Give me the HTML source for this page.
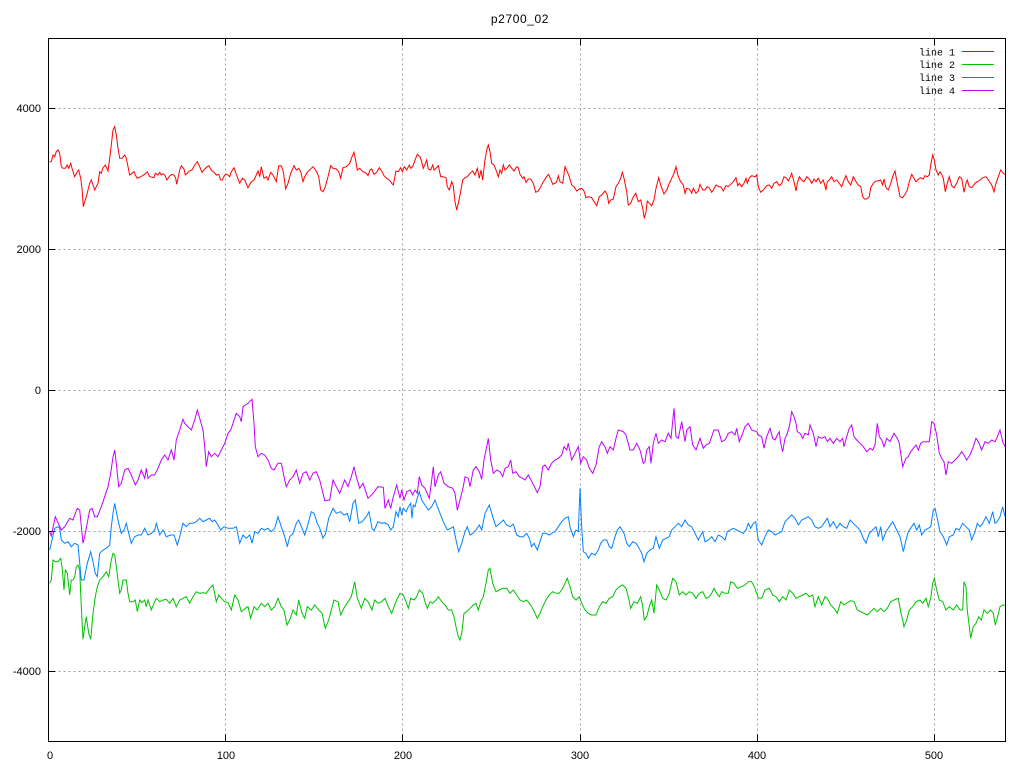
<!DOCTYPE html>
<html>
<head>
<meta charset="utf-8">
<style>
html,body{margin:0;padding:0;background:#fff;}
svg{display:block;}
text{font-family:"Liberation Sans",sans-serif;font-size:11px;fill:#000;}
.mono{font-family:"Liberation Mono",monospace;font-size:10px;}
</style>
</head>
<body>
<svg width="1024" height="768" viewBox="0 0 1024 768" xmlns="http://www.w3.org/2000/svg">
<rect x="0" y="0" width="1024" height="768" fill="#fff"/>
<!-- grid -->
<g stroke="#a0a0a0" stroke-width="1" stroke-dasharray="2,3" fill="none">
<line x1="48.5" y1="108.5" x2="1005.5" y2="108.5"/>
<line x1="48.5" y1="249.5" x2="1005.5" y2="249.5"/>
<line x1="48.5" y1="390.5" x2="1005.5" y2="390.5"/>
<line x1="48.5" y1="531.5" x2="1005.5" y2="531.5"/>
<line x1="48.5" y1="671.5" x2="1005.5" y2="671.5"/>
<line x1="225.5" y1="38.5" x2="225.5" y2="741.5"/>
<line x1="402.5" y1="38.5" x2="402.5" y2="741.5"/>
<line x1="580.5" y1="38.5" x2="580.5" y2="741.5"/>
<line x1="757.5" y1="38.5" x2="757.5" y2="741.5"/>
<line x1="934.5" y1="38.5" x2="934.5" y2="741.5"/>
</g>
<!-- ticks -->
<g stroke="#000" stroke-width="1">
<line x1="48.5" y1="108.5" x2="55.5" y2="108.5"/><line x1="998.5" y1="108.5" x2="1005.5" y2="108.5"/>
<line x1="48.5" y1="249.5" x2="55.5" y2="249.5"/><line x1="998.5" y1="249.5" x2="1005.5" y2="249.5"/>
<line x1="48.5" y1="390.5" x2="55.5" y2="390.5"/><line x1="998.5" y1="390.5" x2="1005.5" y2="390.5"/>
<line x1="48.5" y1="531.5" x2="55.5" y2="531.5"/><line x1="998.5" y1="531.5" x2="1005.5" y2="531.5"/>
<line x1="48.5" y1="671.5" x2="55.5" y2="671.5"/><line x1="998.5" y1="671.5" x2="1005.5" y2="671.5"/>
<line x1="225.5" y1="38.5" x2="225.5" y2="45.5"/><line x1="225.5" y1="734.5" x2="225.5" y2="741.5"/>
<line x1="402.5" y1="38.5" x2="402.5" y2="45.5"/><line x1="402.5" y1="734.5" x2="402.5" y2="741.5"/>
<line x1="580.5" y1="38.5" x2="580.5" y2="45.5"/><line x1="580.5" y1="734.5" x2="580.5" y2="741.5"/>
<line x1="757.5" y1="38.5" x2="757.5" y2="45.5"/><line x1="757.5" y1="734.5" x2="757.5" y2="741.5"/>
<line x1="934.5" y1="38.5" x2="934.5" y2="45.5"/><line x1="934.5" y1="734.5" x2="934.5" y2="741.5"/>
</g>
<!-- labels -->
<g text-anchor="end">
<text x="41" y="112">4000</text>
<text x="41" y="253">2000</text>
<text x="41" y="394">0</text>
<text x="41" y="535">-2000</text>
<text x="41" y="675">-4000</text>
</g>
<g text-anchor="middle">
<text x="50" y="759">0</text>
<text x="226" y="759">100</text>
<text x="403" y="759">200</text>
<text x="580" y="759">300</text>
<text x="757" y="759">400</text>
<text x="934" y="759">500</text>
<text x="520" y="23" style="font-size:12px;letter-spacing:0.6px">p2700_02</text>
</g>
<!-- series -->
<g fill="none" stroke-width="1" stroke-linejoin="miter">
<polyline stroke="#ff0000" points="49.7,161.7 51.3,161.7 53,155 54.7,156.7 56.3,151.7 58,150 59.7,153.3 61.3,166.7 63,168.3 65.3,168.3 67.3,165 68.7,168.3 70.7,163.3 72,168.3 74.7,176.7 77.3,171.7 78.7,170 80.7,178.3 82,188.3 83.3,206.7 84.7,201.7 86.3,196.7 88,190 89.7,183.3 91.3,180 93,185 94.7,190 96.3,186.7 98,183.3 99.7,171.7 101.3,173.3 103,167.7 105.3,165 108,171 109.7,158.3 111.3,145 113,130 114.7,126.7 116.3,135 118,148.3 119.7,158.3 122,158.3 124.7,155 126.3,158.3 128,166.7 129.7,175 132,173.3 134,171.7 135.3,175 137.3,178.3 140.7,176.7 144.7,174.3 147.3,171.7 149.7,176.7 154,177.7 155.3,173.3 158,175 159.7,172.3 161.3,175 163,173.7 164.7,175 167,180 169.7,176 172,174.3 174,175 175.7,178.3 176.7,184.3 178,178.3 179.7,170 181.3,165.7 184,169 185.3,175 187.3,173.3 189,171 192,170 194.7,165 197.3,161.7 199.7,166.7 202,172.3 204.7,169 207.3,166.7 209,165.7 211.3,170 214,172.3 216.3,175 218.7,174.3 220.7,180 222.3,180 224.7,175 227,174.3 229.7,176.7 231.3,171.7 234,167.7 236.3,174.3 239.7,183.3 242.3,178.3 244.7,180 248,187.7 251.3,181.7 254,180 256.3,175 258,171 259.7,176.7 261.3,166.7 264,178.3 266.3,176.7 268,180 270.7,172.3 273,175 274.7,178.3 276.3,181.7 278.7,165.7 281.3,165.7 283.3,171.7 285.7,189 288,183.3 290.7,173.3 294,165.7 296.3,170 298.7,168.3 300.7,171.7 303,181.7 304.7,176.7 307.3,172.3 311.3,168.3 313,166.7 316.3,171 318.7,176.7 320.7,190 323,191.7 325.3,186.7 328,176.7 330.7,165.7 333,168.3 336.3,169 338.7,171.7 340.7,178.3 343,167.7 346.3,166.7 349.7,163.3 352,156.7 354,152.3 355.3,158.3 357.3,170 359.7,168.3 363,171.7 366.3,173.3 368,175.7 370,170 371.7,169 374,174.3 376.7,172.3 379.3,167.7 381.7,171 384,175.7 386.7,178.3 389.3,180 391.7,183.3 393.3,185 396,171 398.3,171.7 400.7,167.7 402.3,171.7 404.3,166.7 406.7,170 409.3,165 410.7,168.3 412.7,166.7 415,160 417.3,154.3 420,156.7 421.7,161.7 423.3,168.3 425,164.3 426.7,160 428.3,169 430.7,170 432.7,165 434,170 436,168.3 438.3,165.7 440.7,176.7 443.3,176.7 446,177.7 447.3,186.7 449.3,190 451.7,181.7 453.3,185.7 455,201.7 456.7,210 458.3,203.3 460,195 462.7,180 465,177.7 467.3,176.7 470,173.3 472.7,171 475,175 477.3,168.3 479.3,178.3 481,170 482.7,180 484.7,161.7 486.7,150 488.3,145 490,151.7 491.7,163.3 494,165 496,170 498.3,176.7 500,170 501.7,173.3 503.3,165 505,170 507.3,167.7 509.3,165 511.7,168.3 514,171 516.7,166.7 518.3,167.7 520,174.3 522.7,178.3 524,176.7 526,182.3 528.3,179 530.7,179 533.3,183.3 535.7,192.3 538.3,191 540.7,186.7 543.3,181.7 546,177.7 548.3,174.3 550.7,179 552.7,184.3 555,183.3 556.7,181.7 558.3,175.7 560,181.7 562.7,183.3 565,166.7 567.3,171.7 569.3,176.7 571.7,185 574,186.7 576.7,191 579.3,189 581.7,188.3 584,191 586,197.7 588.3,196.7 591.7,197.7 594,201.7 596.7,205.7 599.3,196.7 601.7,195 605,191 607.3,195 608.7,203.3 610.7,200 613.3,199 616,186.7 618.3,183.3 620.7,178.3 622.3,172.3 624,178.3 626.7,191.7 628.3,205 630.7,203.3 633.3,196.7 635.7,193.3 638.3,201.7 640.7,200 642.7,208.3 644.3,218.3 646,211.7 647.3,201 649.3,203.3 651.7,205.7 654,200 656,188.3 658.7,177.7 660.7,185 664,194 666.7,190 669.3,183.3 671.7,178.3 674,173.3 676,166.7 678.3,176.7 680.7,181.7 683.3,185 685,193.3 686.7,188.3 689.3,189 691.7,193.3 693.3,188.3 696,193.3 698.3,191 700,184.3 702.7,190 705,190 707.3,186.7 709.3,187.7 711.7,192.3 713.3,190 716,185 718.3,186.7 720.7,186.7 723.3,191 726,185.7 728.3,186.7 730.7,184.3 733.3,181.7 736,177.7 737.7,185.7 739.3,183.3 741.7,186.7 744,183.3 746,178.3 747.3,183.3 749.3,177.7 751.7,175.7 755,176.7 756.7,175 758.3,186.7 760.7,192.3 763.3,190 766.7,185.7 769.3,185 771.7,188.3 774,183.3 776.7,181.7 779.3,185.7 781.7,183.3 784,176.7 786.7,178.3 788.3,181 790,177.7 791.7,173.3 794,181.7 796,191 797.3,183.3 799.3,176.7 801.7,180 804,181.7 806.7,176.7 809.3,179 811.7,183.3 814,179 816,181.7 818.3,178.3 820.7,183.3 823.3,180 826,190 827.3,181.7 829.3,180 831.7,176.7 834,181.7 836.7,180 839.3,183.3 841.7,186.7 844,180 846,175.7 848.3,181.7 850.7,185 853.3,176.7 856,181.7 858.3,185 860.7,186.7 862.7,196.7 864.3,199 866.7,199 869.3,196.7 870.7,187.7 873.3,183.3 876,181 878.3,181 880.7,180 882.7,185 884,179 886,187.7 888.3,190 890.7,183.3 892.7,176.7 895,171 897.3,183.3 900,196.7 902.7,197.7 905,194.3 907.3,190 909.3,181.7 911.7,174.3 914,178.3 916,181.7 918.3,179.3 920.7,177.7 923.3,179 925,175.7 927.3,176.7 929.3,175 930.7,165 932.7,155 934.3,160 936,170 938.3,175 940,171.7 941.7,174.3 943.3,178.3 945.3,191.7 947.3,183.3 949.3,176.7 951.7,185.7 954,187.7 956.7,183.3 959.3,176.7 961.7,178.3 964,192.3 966,183.3 967.3,180 969.3,186.7 971.7,187.7 975,183.3 977.3,181.7 980,180 982.7,177.7 986,176.7 988.3,180 991.7,185 994,191.7 996,183.3 998.3,176.7 1000.7,170 1003.3,173.3 1005,174.3"/>
<polyline stroke="#00c000" points="49.7,583.3 51.3,580 53,560 55.3,561.7 58,561.7 60.7,558.3 62,566.7 64,590 65.3,570 67.3,573.3 69.7,595 71.3,580 73,580 74.7,576.7 76.3,566.7 78,565 79.7,570 81.3,606.7 83,639.3 84.7,626.7 86.3,616.7 88.7,633.3 90.7,639.3 93,613.3 95.3,596.7 97.3,586.7 99.7,580 103,576.7 106.3,571.7 108.7,576.7 111.3,560 113,553.3 114.7,555 116.3,566.7 118,580 119.7,593.3 121.3,590 123,580 126.3,580 128,593.3 129.7,601.7 133,601.7 135.3,600 137.3,611.7 139.7,600 142,602.7 144.7,600 146.3,606.7 148,600 151.3,610 154,603.3 156.3,598.3 159.7,601.7 163,600 166.3,599.3 169.7,603.3 173,598.3 176.3,606.7 179.7,600 183,598.3 186.3,596.7 189.7,603.3 193,596.7 196.3,591.7 199.7,593.3 203,592.7 206.3,593.3 209.7,588.3 213,585 216.3,601.7 218.7,595 221.3,598.3 224.7,601.7 228,602.7 231.3,610 234.7,595 238,600 241.3,611.7 245.3,608.3 248,606.7 250.7,618.3 254,606.7 257.3,610 261.3,603.3 264.7,606.7 268,603.3 271.3,610 274.7,606.7 278,598.3 281.3,606.7 284,610 287,625 289.7,620 293,610 296.3,615 298.7,600 302,613.3 304.7,618.3 307.3,606.7 311.3,610 314.7,605 318.7,610 322,613.3 325.3,628.3 328.7,620 331.3,610 334,600 338,601.7 340.7,615 344.7,606.7 348,601.7 351.3,596.7 354.7,581.7 357.3,598.3 361.3,608.3 364.7,598.3 368,601.7 372,610 374.7,600 378,603.3 381.7,601.7 385,598.3 388.3,606.7 391.7,613.3 394,606.7 396.7,600 400,593.3 403.3,595 406,601.7 408.3,608.3 410.7,598.3 414,600 416.7,596.7 419.3,590 422.7,593.3 425,601.7 427.3,608.3 430,601.7 432.7,603.3 436,600 438.3,596.7 441.7,601.7 445,605 448.3,610 451.7,610 454,616.7 456,626.7 458.3,636.7 460,640 461.7,633.3 464,613.3 466.7,611.7 470,608.3 473.3,605 476,603.3 478.3,610 480.7,601.7 483.3,596.7 486,583.3 488.3,570 490,568.3 492.7,583.3 496,591.7 499.3,590 502.7,588.3 506.7,588.3 510,593.3 513.3,590 516.7,595 520,600 523.3,601.7 526.7,600 529.3,603.3 531.7,606.7 535,613.3 537.3,618.3 540,613.3 542.7,606.7 546,600 549.3,595 552.7,591.7 556,593.3 559.3,593.3 562.7,588.3 565,583.3 567.3,578.3 570,586.7 572.7,596.7 576,600 579.3,596.7 581.7,603.3 585,610 588.3,613.3 591.7,615 596,615 599.3,606.7 602.7,601.7 606,603.3 609.3,598.3 612.7,596.7 616,590 619.3,586.7 622.7,585 626,588.3 628.3,596.7 630.7,608.3 634,601.7 637.3,603.3 640.7,596.7 642.7,606.7 644.3,620 646.7,616.7 649.3,606.7 651.7,600 654,613.3 656.7,585 659.3,590 662.7,598.3 666,600 669.3,593.3 672.7,578.3 676,581.7 679.3,595 682.7,591.7 686,595 689.3,591.7 692.7,593.3 696,598.3 699.3,593.3 702.7,591.7 706,598.3 709.3,596.7 711.7,593.3 714,588.3 716.7,593.3 719.3,596.7 721.7,591.7 725,593.3 728.3,593.3 730.7,581.7 734,583.3 737.3,588.3 741.7,586.7 745,585 748.3,581.7 751.7,581.7 755,588.3 758.3,598.3 761.7,598.3 765,590 769.3,588.3 772.7,595 776,596.7 779.3,601.7 782.7,596.7 786,600 789.3,590 792.7,593.3 796,598.3 799.3,596.7 802.7,595 806,593.3 809.3,596.7 812.7,595 815,606.7 818.3,596.7 821.7,605 825,596.7 827.3,598.3 830.7,605 834,608.3 837.3,613.3 840.7,601.7 844,605 847.3,602.7 850.7,600.7 854,601.7 857.3,610 860.7,611.7 864,613.3 867.3,615 870.7,611.7 874,608.3 877.3,611.7 880.7,608.3 884,611.7 887.3,608.3 890.7,601.7 894,600 898.3,598.3 900.7,611.7 902.7,620 904,626.7 906.7,620 909.3,610 912.7,606.7 916,601.7 920,600 922.7,603.3 926,598.3 928.3,606.7 930.7,598.3 932.7,583.3 934.3,578.3 936.7,590 939.3,600 942.7,601.7 946,610 949.3,606.7 953.3,610 956.7,605 960,610 962.7,610 964,581.7 966,586.7 967.3,610 969.3,626.7 970.7,638.3 973.3,626.7 976,623.3 978.7,616.7 981.3,620 984,610 987.3,613.3 990.7,610 993.3,613.3 995.3,625 997.3,618.3 1000,606.7 1003.3,605 1005,605"/>
<polyline stroke="#0080ff" points="49.7,550 52,540 54.7,528.3 58,526.7 59.7,528.3 61.3,540 64.7,543.3 68,541.7 71.3,546.7 74.7,543.3 78,545 81.3,580 84,580 87.3,563.3 90.7,551.7 93,561.7 95.3,573.3 97.3,576.7 99.7,553.3 103,550 106.3,548.3 109.7,545 111.3,526.7 113,513.3 114.7,503.3 116.3,511.7 118.7,523.3 121.3,533.3 124,530 126.3,523.3 128.7,533.3 131.3,543.3 134.7,536.7 138,535 141.3,535 144.7,528.3 148,535 151.3,533.3 154.7,530 156.3,523.3 159.7,535 163,530 166.3,536.7 170.7,535 174,535 177.3,545 179.7,536.7 183,523.3 186.3,526.7 189.7,523.3 193,523.3 196.3,521.7 199.7,518.3 203,521.7 206.3,520 209.7,518.3 212,521.7 214.7,520 218,525 220.7,530 224,526.7 228,528.3 233,528.3 236.3,526.7 239.7,543.3 243,535 246.3,538.3 249.7,535 252,543.3 254.7,531.7 258,533.3 261.3,528.3 264.7,530 268,528.3 271.3,531.7 274.7,528.3 278,516.7 281.3,526.7 284.7,536.7 287.3,546.7 289.7,536.7 293,533.3 296.3,523.3 298.7,520 302,528.3 304.7,535 307.3,526.7 311.3,511.7 314,513.3 317.3,523.3 319.7,528.3 323,538.3 325.7,533.3 328.7,518.3 333,508.3 336.3,513.3 340.7,511.7 344,515 347.3,513.3 349.7,521.7 353,503.3 355.3,500 358.7,523.3 362,521.7 366.3,516.7 369,511.7 372,528.3 374,530.7 378,521.7 381.7,523.3 385,522.7 388.3,525 390.7,530 393.3,526.7 396,511.7 398.3,516.7 400,506.7 401.7,515 403.3,508.3 406,511.7 408.3,506.7 410.7,503.3 412,518.3 413.3,505 415,506.7 416.7,500 419.3,491.7 421.7,500 425,505 428.3,510 431.7,506.7 435,500 436.7,505 440,513.3 443.3,521.7 447.3,530 450.7,528.3 453.3,526.7 456,540 458.7,551.7 461.7,543.3 465,531.7 467.3,526.7 470,535 472.7,533.3 476,530 479.3,525 481.7,530 485,513.3 489.3,505 492.7,516.7 496,526.7 500,523.3 503.3,520 506.7,525 510,526.7 513.3,524 516.7,535 520,536.7 523.3,536.7 526.7,533.3 529.3,538.3 531.7,546.7 534,543.3 537.3,550 540,541.7 542.7,533.3 546,533.3 549.3,535 552.7,532.7 555,531.7 558.3,526.7 561.7,521.7 565,518.3 568.3,516.7 570,526.7 573.3,536.7 576,530 578.3,531.7 580,488.3 581.7,526.7 583.3,551.7 586,553.3 588.3,558.3 591.7,553.3 595,555 598.3,550 600.7,543.3 603.3,540 606.7,540 609.3,546.7 611.7,548.3 615,536.7 617.3,530 620,526.7 624,533.3 626.7,543.3 629.3,546.7 632.7,541.7 636,543.3 638.3,546.7 641.7,553.3 644,561.7 646.7,553.3 650,550 653.3,548.3 656,536.7 659.3,548.3 662.7,540 666,538.3 669.3,536.7 671.7,530 675,526.7 678.3,523.3 681.7,526.7 685,520 688.3,525 691.7,526.7 695,533.3 698.3,540 700,536.7 702.7,531.7 705,541.7 708.3,540 711.7,536.7 715,541.7 718.3,535 721.7,536.7 725,540 727.3,531.7 730,530 733.3,528.3 736.7,530 740,531.7 743.3,533.3 746,530 748.3,523.3 750.7,528.3 753.3,523.3 755.7,521.7 758.3,540 761.7,545 765,536.7 768.3,530 771.7,531.7 775,535 778.3,533.3 781.7,531.7 785,521.7 788.3,518.3 791.7,515 795,518.3 798.3,525 801.7,520 805,518.3 808.3,516.7 811.7,520 815,526.7 818.3,528.3 821.7,526.7 825,521.7 827.3,518.3 830,526.7 833.3,521.7 836.7,528.3 840,523.3 843.3,526.7 846.7,528.3 850,520 853.3,523.3 856.7,526.7 860,530 863.3,538.3 866,543.3 869.3,533.3 872.7,530 876,526.7 878.3,536.7 880.7,526.7 882.7,540 886,531.7 889.3,526.7 892.7,521.7 896.7,530 900,536.7 903.3,551.7 906,540 908.3,531.7 911.7,526.7 914,523.3 916.7,530 919.3,525 921.7,535 925,530 928.3,528.3 930.7,526.7 933.3,510 935,508.3 937.3,518.3 940,531.7 943.3,536.7 946.7,545 949.3,536.7 953.3,535 956,528.3 959.3,530 962.7,523.3 966,526.7 969.3,530 971.7,540 975,531.7 977.3,523.3 980,526.7 982.7,523.3 986,516.7 989.3,523.3 992.7,511.7 995,523.3 997.3,521.7 1000,516.7 1002.7,506.7 1005,516.7"/>
<polyline stroke="#c000ff" points="49.7,531.7 51.3,536 55.3,516.7 61.3,530 64.7,526.7 69.7,518.3 73,520 74.7,515 77.3,508.3 79.7,510 83,543.3 84.7,536.7 89.7,510 92,508.3 94.7,516.7 97.3,516.7 101.3,506.7 104.7,496.7 108,486.7 110.7,473.3 113,456.7 114.7,450 116.3,463.3 118.7,486.7 121.3,483.3 124.7,470 128,468.3 131.3,475 135.3,485 138,480 141.3,470 144.7,478.3 146.3,468.3 148,478.3 151.3,475 154.7,475 158,468.3 161.3,460 164.7,455 168,460 171.3,450 174,460 176.3,440 179.7,430 183,419.3 184.7,423.3 188,426.7 191.3,430 194.7,420 197.3,410 199.7,418.3 203,430 204.7,446.7 206.3,466.7 208.7,451.7 211.3,456.7 214.7,453.3 218,456.7 221.3,450 224.7,443.3 228,433.3 230.7,430 233,423.3 236.3,413.3 239.7,416.7 241.3,421.7 243,406.7 248,403.3 252,399.3 254,423.3 255.3,446.7 258,456.7 261.3,453.3 264.7,455 268,460 271.3,468.3 274,470 278,463.3 281.3,463.3 284.7,480 286.3,486.7 289.7,480 293,476.7 296.3,470 299.7,483.3 303,473.3 306.3,471.7 309.7,480 313,473.3 316.3,471.7 319.7,480 323,493.3 324.7,500.7 329.7,500 333,480 336.3,486.7 339.7,493.3 344.7,480 348,486.7 351.3,476.7 354,466.7 356.3,476.7 359.7,488.3 363,483.3 368,498.3 373,493.3 378,486.7 383.3,487.3 385,508.3 388.3,500 390.7,508.3 393.3,496.7 396.7,485 400,498.3 401.7,490 404,500 406.7,491.7 410,490 412.7,495 415,490 417.3,493.3 419.3,476.7 421.7,485 425,488.3 429.3,498.3 431.7,480 433.3,466.7 435,486.7 438.3,475 440.7,471.7 444,483.3 448.3,486.7 452.7,488.3 455,493.3 457.3,510 460,500 463.3,486.7 465,476.7 468.3,478.3 470,486.7 473.3,470 476,466.7 479.3,471.7 481.7,479.3 484,460 486.7,446.7 488.3,438.3 490.7,460 493.3,473.3 496.7,470 500,471.7 502.7,476.7 505,468.3 508.3,466.7 510.7,460 512.7,473.3 516,471.7 519.3,476.7 522.7,478.3 525,480 528.3,475 532.7,483.3 537.3,492.7 540,486.7 542.7,466.7 545,465 548.3,470 551.7,463.3 555,460 558.3,458.3 561.7,455 564,446.7 566.7,450 568.3,443.3 571.7,460 575,453.3 578.3,446.7 580.7,463.3 583.3,456.7 586.7,460 589.3,468.3 592.7,473.3 596,465 599.3,446.7 601.7,441.7 605,446.7 607.3,453.3 610,446.7 613.3,450 616,438.3 618.3,430 623.3,431.7 626,435 630,450 633.3,450 636.7,443.3 640,450 643.3,463.3 645,461.7 646.7,450 649.3,446.7 651,463.3 653.3,443.3 656,433.3 658.3,443.3 661.7,440 665,441.7 668.3,433.3 671,438.3 674,408.3 676,436.7 678.3,438.3 681.7,421.7 685,441.7 686.7,430 690,426.7 692.7,445 696,450 700,438.3 703.3,448.3 706,445 709.3,443.3 711.7,436.7 714,430 718.3,430 721.7,441.7 725,440 728.3,433.3 731.7,431.7 735,435 736.7,428.3 739.3,441.7 742.7,433.3 745,426.7 748.3,423.3 751.7,430 756.7,431.7 758.3,435 761.7,436.7 764,448.3 766.7,436.7 770,428.3 772.7,438.3 775,440 777.3,435 779.3,431.7 780.7,443.3 782.7,451.7 785,438.3 786.7,435 789.3,426.7 791.7,411.7 794,416.7 796,423.3 797.3,431.7 800,433.3 802.7,438.3 805,433.3 808.3,435 810,425 813.3,433.3 816,446.7 818.3,436.7 821.7,438.3 825,436.7 827.3,441.7 830,438.3 833.3,443.3 836.7,438.3 840,441.7 842.7,438.3 844,446.7 846.7,436.7 849.3,428.3 851.7,425 854,436.7 856.7,440 860,443.3 863.3,446.7 866.7,451.7 870,448.3 872.7,450 875,445 877.3,423.3 879.3,436.7 881.7,440 884,446.7 886.7,438.3 890,441.7 894,433.3 897.3,438.3 899.3,443.3 900.7,453.3 902.7,466.7 906,458.3 908.3,456.7 910.7,451.7 913.3,448.3 916,445 918.3,450 920.7,443.3 923.3,441.7 926.7,441.7 929.3,441.7 931.7,421.7 934,423.3 936.7,435 939.3,453.3 941.7,458.3 944,461.7 946,475 948.3,461.7 951.7,463.3 955,460 958.3,456.7 961.7,451.7 964,455 966.7,460 970,455 973.3,446.7 976,438.3 978.3,441.7 981.7,450 985,441.7 988.3,443.3 991.7,440 995,441.7 996.7,438.3 1000,430 1002.7,441.7 1005,446.7"/>
</g>
<!-- frame -->
<rect x="48.5" y="38.5" width="957" height="703" fill="none" stroke="#000" stroke-width="1"/>
<!-- legend -->
<g text-anchor="end" class="mono">
<text class="mono" x="955" y="55.5">line 1</text>
<text class="mono" x="955" y="68">line 2</text>
<text class="mono" x="955" y="81">line 3</text>
<text class="mono" x="955" y="94">line 4</text>
</g>
<g stroke-width="1">
<line x1="962" y1="51.5" x2="994" y2="51.5" stroke="#ff0000"/>
<line x1="962" y1="64.5" x2="994" y2="64.5" stroke="#00c000"/>
<line x1="962" y1="77.5" x2="994" y2="77.5" stroke="#0080ff"/>
<line x1="962" y1="90.5" x2="994" y2="90.5" stroke="#c000ff"/>
</g>
</svg>
</body>
</html>
